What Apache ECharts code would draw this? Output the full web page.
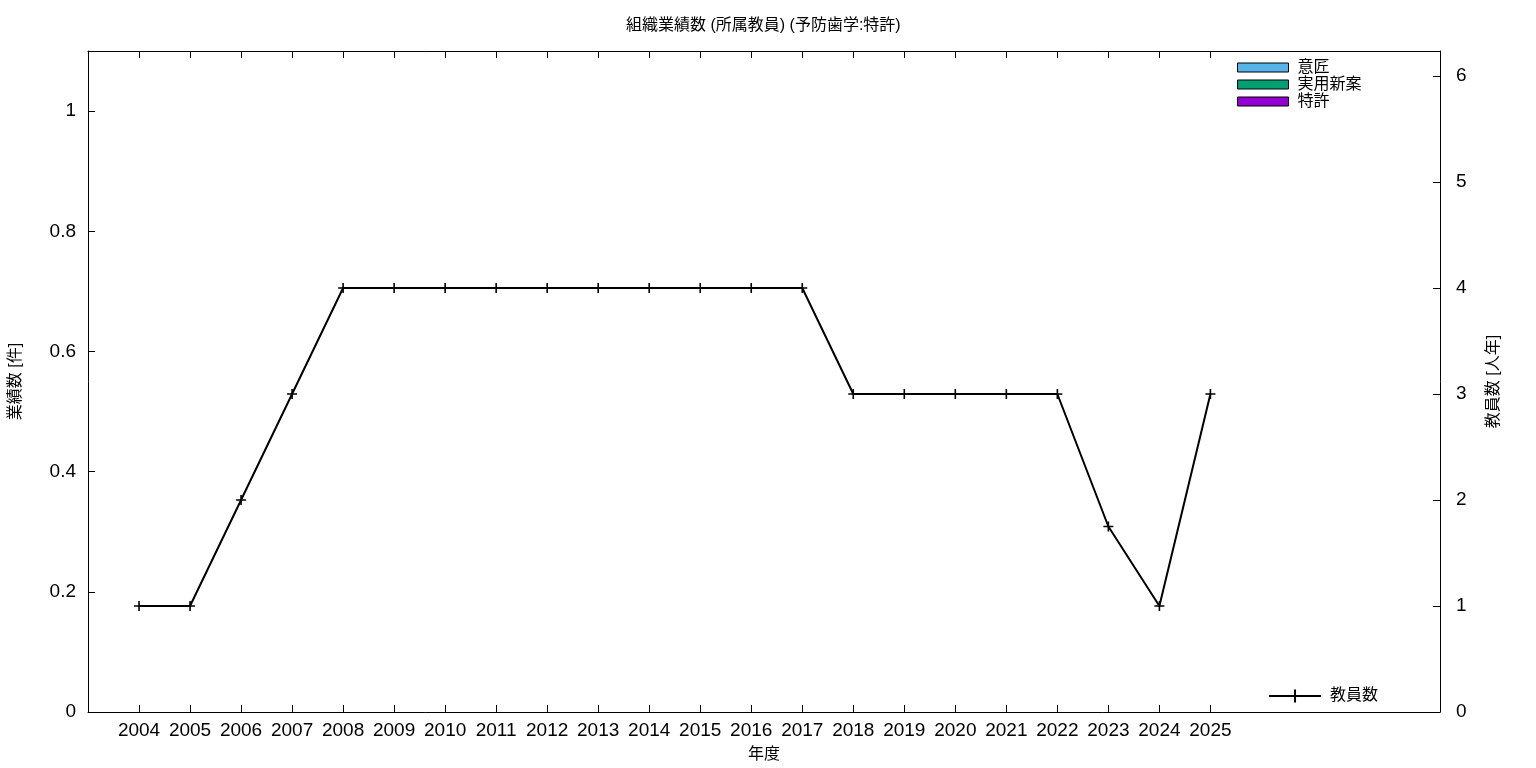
<!DOCTYPE html>
<html><head><meta charset="utf-8">
<script src="https://cdn.jsdelivr.net/npm/echarts@6/dist/echarts.min.js"></script>
<style>html,body{margin:0;padding:0;background:#fff}#c{width:1536px;height:768px}</style>
</head><body><div id="c"></div>
<script>
const years = [2004,2005,2006,2007,2008,2009,2010,2011,2012,2013,2014,2015,2016,2017,2018,2019,2020,2021,2022,2023,2024,2025];
const teachers = [1,1,2,3,4,4,4,4,4,4,4,4,4,4,3,3,3,3,3,1.75,1,3];
const design = [0,0,0,0,0,0,0,0,0,0,0,0,0,0,0,0,0,0,0,0,0,0];
const utility = [0,0,0,0,0,0,0,0,0,0,0,0,0,0,0,0,0,0,0,0,0,0];
const patent = [0,0,0,0,0,0,0,0,0,0,0,0,0,0,0,0,0,0,0,0,0,0];
const leftTicks = [0,0.2,0.4,0.6,0.8,1];
const rightTicks = [0,1,2,3,4,5,6];

const FONT = "'Liberation Sans','Noto Sans CJK JP',sans-serif";
const chart = echarts.init(document.getElementById('c'));
const pair = arr => years.map((y,i)=>[y,arr[i]]);
const cross = 'path://M0,4.2L10,4.2L10,5.8L0,5.8Z M4.2,0L5.8,0L5.8,10L4.2,10Z';
chart.setOption({
  animation:false,
  textStyle:{fontFamily:FONT},
  title:{text:'組織業績数 (所属教員) (予防歯学:特許)',left:626,top:18,padding:0,
    textStyle:{fontFamily:FONT,fontSize:16,fontWeight:'normal',color:'#000'}},
  grid:{left:88,right:96,top:51,bottom:56,containLabel:false,outerBoundsMode:'none',show:false},
  legend:[
    {data:['意匠','実用新案','特許'],orient:'vertical',left:1237,top:59,itemWidth:51,itemHeight:9,itemGap:0,icon:'rect',
     textStyle:{fontFamily:FONT,fontSize:16,lineHeight:17,color:'#000',padding:[0,0,0,4]},
     itemStyle:{borderColor:'#000',borderWidth:1},selectedMode:false,padding:0},
    {data:['教員数'],left:1268,top:688,itemWidth:52,itemHeight:16,
     textStyle:{fontFamily:FONT,fontSize:16,color:'#000',padding:[0,0,0,4]},selectedMode:false,padding:0}
  ],
  xAxis:[
    {type:'value',min:2003,max:2029.5,position:'bottom',
     name:'年度',nameLocation:'middle',nameGap:35,nameTextStyle:{fontFamily:FONT,fontSize:16,color:'#000'},
     axisLine:{onZero:false,lineStyle:{color:'#000',width:1}},
     axisTick:{inside:true,length:7,customValues:years,lineStyle:{color:'#000'}},
     axisLabel:{customValues:years,fontSize:19,color:'#000',margin:9,fontFamily:FONT,formatter:v=>String(v)},
     splitLine:{show:false}},
    {type:'value',min:2003,max:2029.5,position:'top',
     axisLine:{onZero:false,lineStyle:{color:'#000',width:1}},
     axisTick:{inside:true,length:7,customValues:years,lineStyle:{color:'#000'}},
     axisLabel:{show:false},splitLine:{show:false}},
    {type:'value',min:2003,max:2029.5,position:'bottom',show:false,
     axisLine:{onZero:false},splitLine:{show:false}}
  ],
  yAxis:[
    {type:'value',min:0,max:1.1,interval:0.2,position:'left',
     name:'業績数 [件]',nameLocation:'middle',nameRotate:90,nameGap:64,
     nameTextStyle:{fontFamily:FONT,fontSize:16,color:'#000'},
     axisLine:{show:true,onZero:false,lineStyle:{color:'#000',width:1}},
     axisTick:{inside:true,length:7,customValues:leftTicks,lineStyle:{color:'#000'}},
     axisLabel:{customValues:leftTicks,fontSize:19,color:'#000',margin:12,fontFamily:FONT,formatter:v=>String(+v.toFixed(1))},
     splitLine:{show:false}},
    {type:'value',min:0,max:6.236,position:'right',
     name:'教員数 [人年]',nameLocation:'middle',nameRotate:90,nameGap:46,
     nameTextStyle:{fontFamily:FONT,fontSize:16,color:'#000'},
     axisLine:{show:true,onZero:false,lineStyle:{color:'#000',width:1}},
     axisTick:{inside:true,length:7,customValues:rightTicks,lineStyle:{color:'#000'}},
     axisLabel:{customValues:rightTicks,fontSize:19,color:'#000',margin:16,fontFamily:FONT},
     splitLine:{show:false}}
  ],
  series:[
    {name:'意匠',type:'bar',xAxisIndex:2,data:pair(design),barWidth:20,stack:'s',itemStyle:{color:'#56b4e9',borderColor:'#000',borderWidth:0}},
    {name:'実用新案',type:'bar',xAxisIndex:2,data:pair(utility),barWidth:20,stack:'s',itemStyle:{color:'#009e73',borderColor:'#000',borderWidth:0}},
    {name:'特許',type:'bar',xAxisIndex:2,data:pair(patent),barWidth:20,stack:'s',itemStyle:{color:'#9400d3',borderColor:'#000',borderWidth:0}},
    {name:'教員数',type:'line',xAxisIndex:0,yAxisIndex:1,data:pair(teachers),symbol:cross,symbolSize:10,showSymbol:true,
     lineStyle:{color:'#000',width:2},itemStyle:{color:'#000'}}
  ]
});
</script></body></html>
